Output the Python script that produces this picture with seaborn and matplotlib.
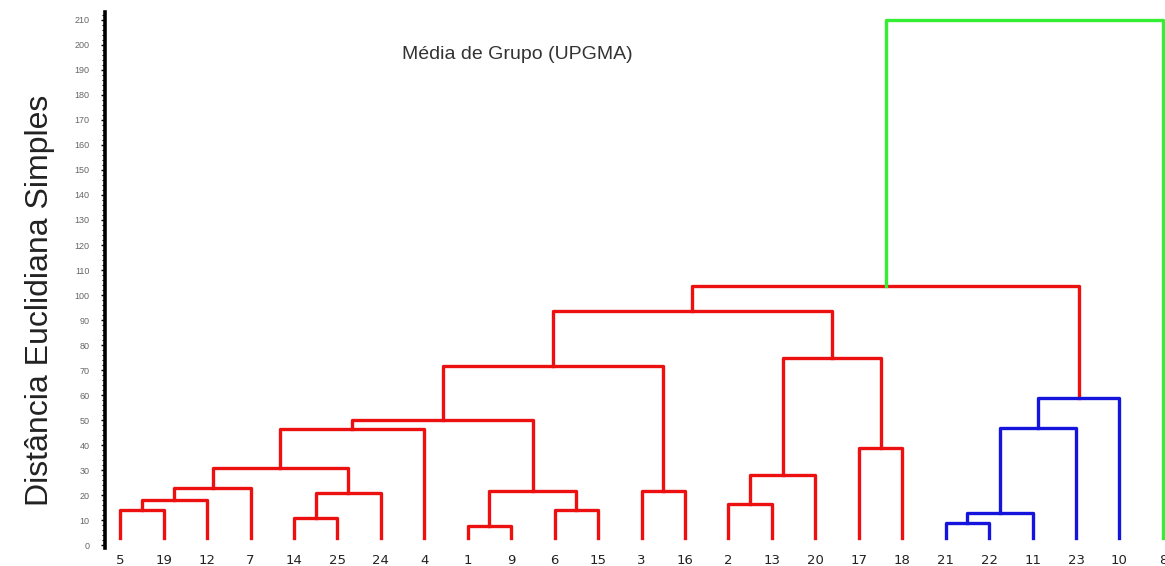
import pandas as pd
import numpy as np
import matplotlib.pyplot as plt
import seaborn as sns

# Leaf order along the x axis
leaves = ['5', '19', '12', '7', '14', '25', '24', '4', '1', '9', '6', '15', '3',
          '16', '2', '13', '20', '17', '18', '21', '22', '11', '23', '10', '8']

# Merges (UPGMA): child a, child b, height. Children are leaf labels or 'cN' (merge N)
merge_a = ['5', 'c0', 'c1', '14', 'c3', 'c2', 'c5', '1', '6', 'c7', 'c6', '3', 'c10',
           '2', 'c13', '17', 'c14', 'c12', '21', 'c18', 'c19', 'c20', 'c17', 'c22']
merge_b = ['19', '12', '7', '25', '24', 'c4', '4', '9', '15', 'c8', 'c9', '16', 'c11',
           '13', '20', '18', 'c15', 'c16', '22', '11', '23', '10', 'c21', '8']
merge_h = [14, 18, 23, 11, 21, 31, 46.5, 7.5, 14, 21.5, 50, 21.5, 71.5,
           16.5, 28, 39, 75, 93.5, 9, 13, 47, 59, 103.5, 210]
merge_grp = ['red'] * 18 + ['blue'] * 4 + ['red', 'green']

leaf_base = 3

# Build the U-shaped links
pos = {lab: i for i, lab in enumerate(leaves)}
hgt = {lab: leaf_base for lab in leaves}
rows = []
for i, (a, b, h, g) in enumerate(zip(merge_a, merge_b, merge_h, merge_grp)):
    xa, xb = pos[a], pos[b]
    ha, hb = hgt[a], hgt[b]
    for x, y in [(xa, ha), (xa, h), (xb, h), (xb, hb)]:
        rows.append({'x': x, 'y': y, 'link': i, 'grp': g})
    pos['c%d' % i] = (xa + xb) / 2
    hgt['c%d' % i] = h
links = pd.DataFrame(rows)

palette = {'red': '#ec1010', 'blue': '#1414dc', 'green': '#33ee33'}

fig = plt.figure(figsize=(11.65, 5.66), dpi=100)
ax = fig.add_axes([0.0901, 0.0318, 0.91, 0.947])

sns.lineplot(data=links, x='x', y='y', units='link', estimator=None, sort=False,
             hue='grp', palette=palette, legend=False, linewidth=2.4, ax=ax)

ax.set_xlim(-0.35, 24.05)
ax.set_ylim(-1.2, 213.2)

ax.set_yticks(np.arange(0, 211, 10))
ax.set_yticks(np.arange(0, 213, 2), minor=True)
ax.tick_params(axis='y', which='major', labelsize=6.5, labelcolor='#666666',
               length=3, width=1, pad=8)
ax.tick_params(axis='y', which='minor', length=2, width=0.8)
for lab in ax.get_yticklabels():
    lab.set_family(['Liberation Sans', 'DejaVu Sans'])

ax.set_xticks(range(len(leaves)))
ax.set_xticklabels(leaves, fontsize=9.5, color='#222222')
ax.tick_params(axis='x', length=0, pad=4.5)

for s in ['top', 'right', 'bottom']:
    ax.spines[s].set_visible(False)
ax.spines['left'].set_linewidth(2.6)
ax.set_xlabel('')
ax.set_ylabel('')

ax.text(0.389, 0.92, 'Média de Grupo (UPGMA)', transform=ax.transAxes,
        ha='center', va='center', fontsize=14, color='#333333',
        family=['Liberation Sans', 'DejaVu Sans'])

fig.text(40 / 1165, 1 - 300 / 566, 'Distância Euclidiana Simples', rotation=90,
         ha='center', va='center', fontsize=23, color='#222222',
         family=['Liberation Sans Narrow', 'Liberation Sans', 'DejaVu Sans'])

fig.savefig('out.png', dpi=100)
